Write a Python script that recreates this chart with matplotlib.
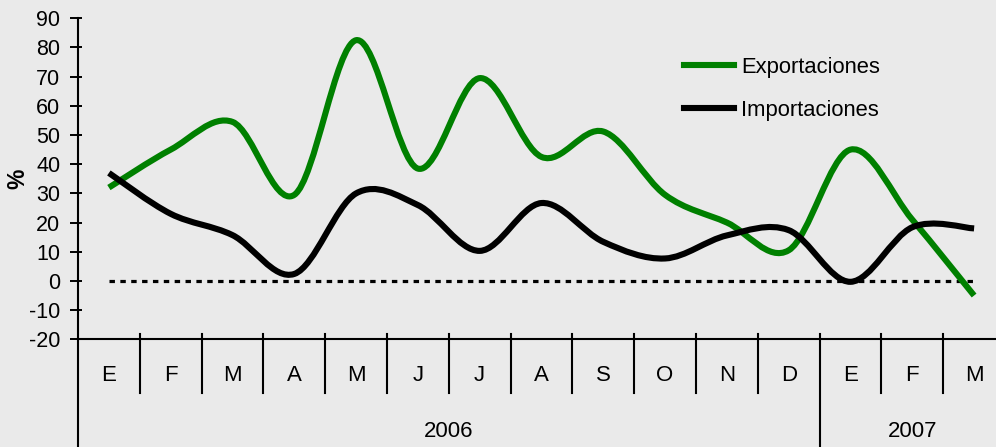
import matplotlib
matplotlib.use("Agg")
import matplotlib.pyplot as plt
import numpy as np
from matplotlib.path import Path
from matplotlib.patches import PathPatch
from matplotlib.lines import Line2D
from matplotlib.transforms import blended_transform_factory

plt.rcParams["font.family"] = ["Liberation Sans", "DejaVu Sans"]
plt.rcParams["axes.unicode_minus"] = False

months = ["E", "F", "M", "A", "M", "J", "J", "A", "S", "O", "N", "D", "E", "F", "M"]
years = ["2006", "2007"]
year_spans = [(0, 12), (12, 15)]  # month index ranges for each year
exportaciones = [32, 45, 54.5, 29.5, 82.5, 38.5, 69.5, 42.5, 51.2, 29.5, 20, 10.5, 45, 21, -5]
importaciones = [37, 23, 15.7, 2.4, 30, 26, 10.3, 26.7, 13.4, 7.7, 15.6, 17.4, -0.3, 18.4, 18]

BG = "#eaeaea"
GREEN = "#008000"


def smooth_path(xs, ys):
    """Excel-style smoothed line: cubic Bezier segments (Catmull-Rom tangents)."""
    p = np.column_stack([xs, ys]).astype(float)
    ext = np.vstack([p[0], p, p[-1]])
    verts = [p[0]]
    codes = [Path.MOVETO]
    for i in range(len(p) - 1):
        p0, p1, p2, p3 = ext[i], ext[i + 1], ext[i + 2], ext[i + 3]
        c1 = p1 + (p2 - p0) / 6.0
        c2 = p2 - (p3 - p1) / 6.0
        verts += [c1, c2, p2]
        codes += [Path.CURVE4] * 3
    return Path(verts, codes)


W, H = 996, 447
fig = plt.figure(figsize=(W / 100, H / 100), dpi=100, facecolor=BG)
ax = fig.add_axes([78 / W, (H - 339.3) / H, 927 / W, 321 / H], facecolor=BG)

x = np.arange(len(months))
for vals, col in [(exportaciones, GREEN), (importaciones, "black")]:
    ax.add_patch(PathPatch(smooth_path(x, vals), fill=False, edgecolor=col,
                           linewidth=4.4, capstyle="butt", joinstyle="round", zorder=3))

ax.plot([x[0], x[-1]], [0, 0], color="black", linewidth=2.3,
        linestyle=(0, (1.7, 1.7)), zorder=2)

ax.set_xlim(-0.5, len(months) - 0.5)
ax.set_ylim(-20, 90)
ax.set_yticks(np.arange(-20, 91, 10))
ax.yaxis.set_minor_locator(matplotlib.ticker.FixedLocator(np.arange(-20, 91, 10)))
ax.yaxis.remove_overlapping_locs = False
ax.tick_params(axis="y", which="major", direction="out", length=5.8, width=1.4,
               labelsize=15.5, pad=7)
ax.tick_params(axis="y", which="minor", direction="in", length=2.9, width=1.4)
ax.set_xticks([])
for s in ["top", "right"]:
    ax.spines[s].set_visible(False)
for s in ["left", "bottom"]:
    ax.spines[s].set_linewidth(1.5)

tr = blended_transform_factory(ax.transData, ax.transAxes)
bottom_y = -(H - 339.3) / 321
# left axis continues down to the bottom
ax.plot([-0.5, -0.5], [0, bottom_y], transform=tr, color="black", lw=1.5, clip_on=False)
# month dividers
for i in range(1, len(months)):
    low = bottom_y if i == year_spans[1][0] else -0.167
    ax.plot([i - 0.5, i - 0.5], [0.0165, low], transform=tr, color="black",
            lw=1.5, clip_on=False)
for i, m in enumerate(months):
    ax.text(i, -0.112, m, transform=tr, ha="center", va="center", fontsize=16)
for yr, (a, b) in zip(years, year_spans):
    ax.text((a + b - 1) / 2, -0.286, yr, transform=tr, ha="center", va="center",
            fontsize=16)

fig.text(18 / W, 1 - 179 / H, "%", rotation=90, ha="center", va="center",
         fontsize=16.5, fontweight="bold")

handles = [Line2D([], [], color=GREEN, lw=4.4), Line2D([], [], color="black", lw=4.4)]
fig.legend(handles, ["Exportaciones", "Importaciones"], loc="upper left",
           bbox_to_anchor=(684 / W, 1 - 57 / H), frameon=False, fontsize=15.8,
           handlelength=2.3, handletextpad=0.3, labelspacing=1.0,
           borderaxespad=0, borderpad=0)

fig.savefig("out.png", dpi=100, facecolor=BG)
